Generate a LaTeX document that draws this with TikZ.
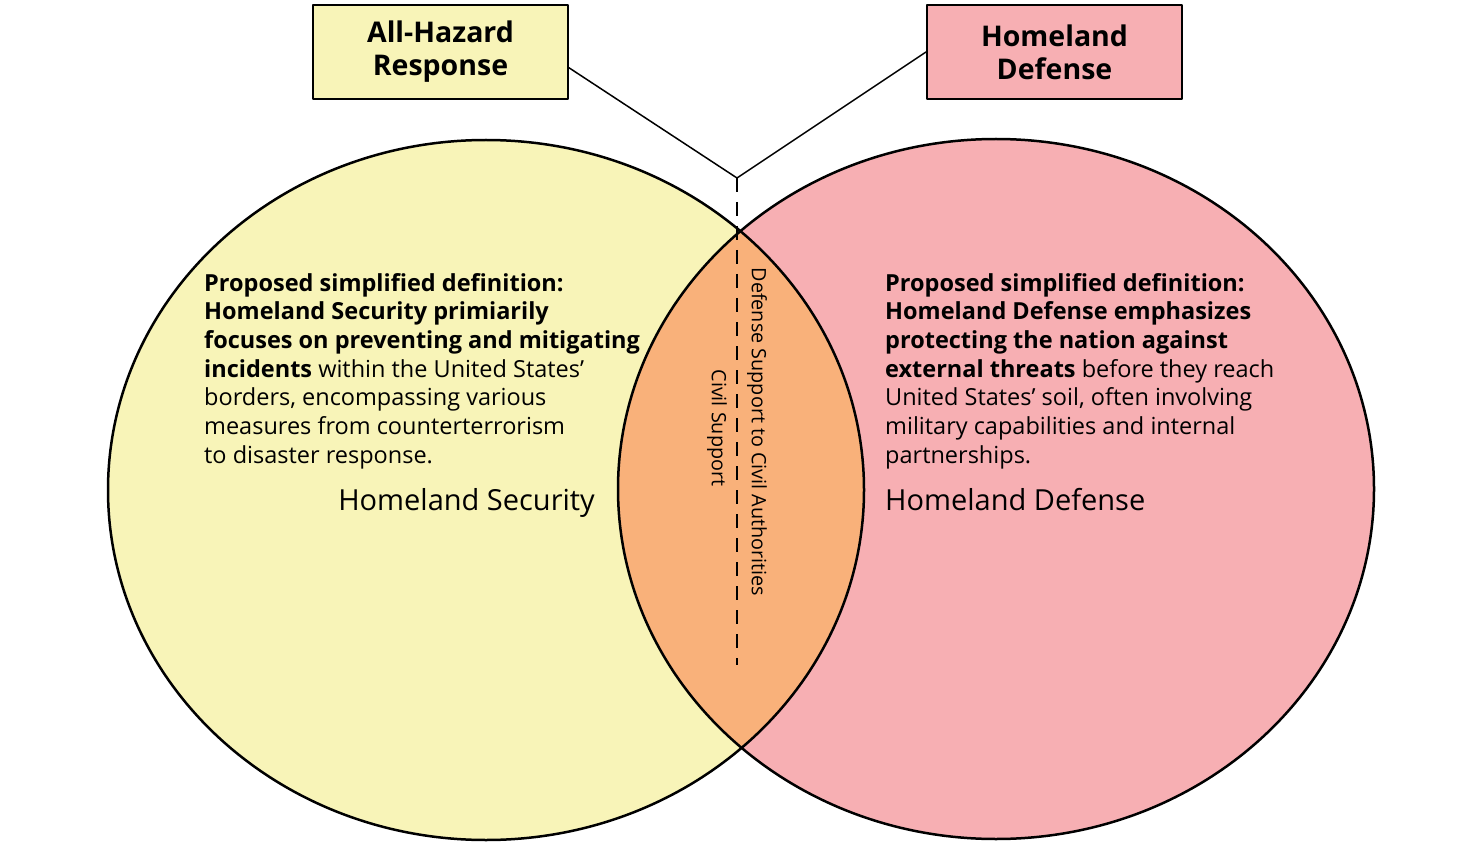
\documentclass[tikz,border=0pt]{standalone}
\usepackage{fontspec}
\setmainfont{Open Sans}
\definecolor{hsyellow}{HTML}{F8F4B8}
\definecolor{hdpink}{HTML}{F7AFB3}
\definecolor{dsorange}{HTML}{F9B17A}
\begin{document}
\begin{tikzpicture}[x=1pt,y=-1pt,line cap=round,line join=round,
  labelbox/.style={draw=black,line width=2pt,minimum width=255pt,minimum height=94pt,
    align=center,font=\fontsize{28.5}{33}\selectfont\bfseries},
  deftext/.style={anchor=north west,align=left,inner sep=0pt,
    font=\fontsize{23.5}{28.7}\selectfont},
  areaname/.style={inner sep=0pt,font=\fontsize{29}{33}\selectfont},
  vlabel/.style={rotate=-90,inner sep=0pt,font=\fontsize{19.8}{22}\selectfont}]
\useasboundingbox (0,0) rectangle (1483,842);
% the two sets
\fill[hsyellow] (486,490) ellipse [x radius=378,y radius=350];
\fill[hdpink] (996,489) ellipse [x radius=378,y radius=350];
\begin{scope}
  \clip (486,490) ellipse [x radius=378,y radius=350];
  \fill[dsorange] (996,489) ellipse [x radius=378,y radius=350];
\end{scope}
\draw[line width=2.5pt] (486,490) ellipse [x radius=378,y radius=350];
\draw[line width=2.5pt] (996,489) ellipse [x radius=378,y radius=350];
% boxes on top
\node[labelbox,fill=hsyellow] (hazard) at (440.5,52) {All-Hazard\\Response};
\node[labelbox,fill=hdpink] (hdbox) at (1054.5,52) {Homeland\\Defense};
\coordinate (fork) at (737,178);
\coordinate (dashend) at (737,665);
\draw[line width=1.5pt] (hazard.-7) -- (fork) -- (hdbox.west);
\draw[line width=2pt,line cap=butt,dash pattern=on 14pt off 10pt] (fork) -- (dashend);
% definitions
\node[deftext] (hsdef) at (204,273) {\textbf{Proposed simplified definition:}\\
  \textbf{Homeland Security primiarily}\\
  \textbf{focuses on preventing and mitigating}\\
  \textbf{incidents} within the United States’\\
  borders, encompassing various\\
  measures from counterterrorism\\
  to disaster response.};
\node[deftext] (hddef) at (885,273) {\textbf{Proposed simplified definition:}\\
  \textbf{Homeland Defense emphasizes}\\
  \textbf{protecting the nation against}\\
  \textbf{external threats} before they reach\\
  United States’ soil, often involving\\
  military capabilities and internal\\
  partnerships.};
\node[areaname,anchor=base east] (hsname) at (595,510) {Homeland Security};
\node[areaname,anchor=base west] (hdname) at (885,510) {Homeland Defense};
% overlap labels
\node[vlabel] (dsca) at (757,432) {Defense Support to Civil Authorities};
\node[vlabel] (civil) at (717,428) {Civil Support};
\end{tikzpicture}
\end{document}
